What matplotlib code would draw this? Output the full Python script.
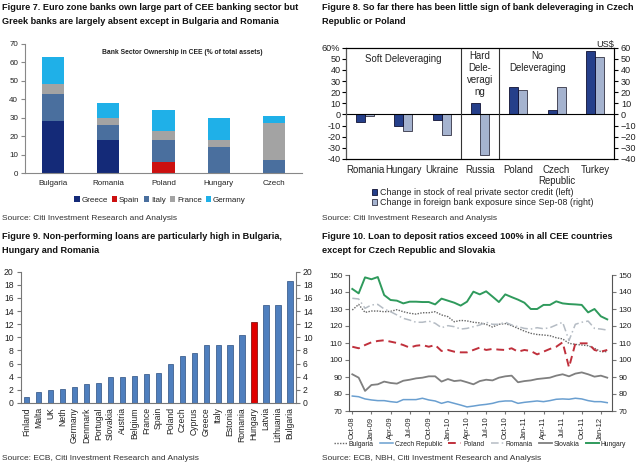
import matplotlib
matplotlib.use("Agg")
import matplotlib.pyplot as plt
import numpy as np
from matplotlib.patches import Patch

plt.rcParams['font.family'] = ['Liberation Sans', 'DejaVu Sans']

# ---------------- Data ----------------
# Figure 7
f7_countries = ["Bulgaria", "Romania", "Poland", "Hungary", "Czech"]
f7_series = ["Greece", "Spain", "Italy", "France", "Germany"]
f7_greece = [28, 18, 0, 0, 0]
f7_spain = [0, 0, 6, 0, 0]
f7_italy = [15, 8, 12, 14, 7]
f7_france = [5, 4, 5, 4, 20]
f7_germany = [15, 8, 11, 12, 4]

# Figure 8
f8_countries = ["Romania", "Hungary", "Ukraine", "Russia", "Poland", "Czech\nRepublic", "Turkey"]
f8_credit = [-7, -10, -5, 10, 25, 4, 57]
f8_exposure = [-1, -15, -18, -36, 22, 25, 52]
f8_groups = ["Soft Deleveraging", "Hard\nDele-\nveragi\nng", "No\nDeleveraging"]

# Figure 9
f9_countries = ["Finland", "Malta", "UK", "Neth", "Germany", "Denmark", "Portugal", "Slovakia",
                "Austria", "Belgium", "France", "Spain", "Poland", "Czech", "Cyprus", "Greece",
                "Italy", "Estonia", "Romania", "Hungary", "Latvia", "Lithuania", "Bulgaria"]
f9_npl = [0.9, 1.6, 2.0, 2.2, 2.5, 2.9, 3.1, 3.9, 4.0, 4.1, 4.4, 4.5, 5.9, 7.1, 7.6, 8.8,
          8.8, 8.9, 10.3, 12.3, 14.9, 15.0, 18.6]

# Figure 10 (monthly Oct-08 .. Feb-12)
f10_ticklabels = ["Oct-08", "Jan-09", "Apr-09", "Jul-09", "Oct-09", "Jan-10", "Apr-10",
                  "Jul-10", "Oct-10", "Jan-11", "Apr-11", "Jul-11", "Oct-11", "Jan-12"]
bulgaria = [129.4, 132.7, 128.0, 128.8, 128.8, 128.4, 128.6, 129.6, 128.4, 127.5,
            127.0, 127.8, 127.8, 128.4, 126.5, 125.5, 122.5, 123.3, 123.0, 122.2,
            121.8, 121.0, 119.4, 121.0, 121.4, 120.2, 118.6, 117.0, 115.7, 115.0,
            114.7, 114.3, 113.1, 112.4, 109.8, 109.2, 108.8, 108.4, 106.9, 104.9, 104.9]
czech = [78.8, 78.4, 77.1, 76.5, 76.1, 76.1, 75.5, 75.1, 76.7, 76.7,
         76.7, 77.5, 76.5, 75.9, 74.5, 75.5, 74.5, 73.5, 72.4, 72.9,
         73.5, 73.9, 74.5, 75.5, 75.9, 75.9, 74.5, 75.1, 75.5, 75.9,
         75.5, 76.1, 76.9, 77.1, 76.9, 77.5, 77.1, 76.1, 75.5, 75.5, 74.9]
poland = [107.8, 106.9, 108.8, 110.4, 111.2, 111.6, 110.8, 110.0, 108.8, 107.3,
          108.4, 108.8, 107.8, 108.8, 105.3, 105.9, 104.9, 104.5, 104.5, 105.9,
          107.3, 105.9, 106.5, 106.1, 105.9, 106.9, 104.9, 105.9, 105.3, 103.3,
          104.9, 106.5, 107.8, 110.4, 95.7, 109.8, 109.8, 109.8, 105.9, 104.9, 105.9]
romania = [136.3, 135.9, 130.4, 132.4, 132.7, 130.0, 128.4, 126.5, 124.5, 123.5,
           122.2, 122.2, 122.9, 121.6, 119.0, 120.2, 119.6, 118.2, 118.6, 119.6,
           120.6, 122.2, 121.0, 121.0, 122.2, 120.6, 119.6, 118.6, 118.2, 119.0,
           118.4, 119.0, 120.6, 122.2, 111.5, 121.0, 122.2, 122.9, 118.6, 118.2, 117.6]
slovakia = [91.6, 89.6, 81.8, 85.3, 85.7, 87.3, 86.5, 86.1, 87.8, 88.4,
            89.2, 89.6, 90.4, 90.4, 87.3, 88.8, 87.6, 88.0, 86.9, 85.7,
            87.6, 88.4, 88.0, 89.6, 90.4, 90.8, 86.9, 87.6, 88.0, 88.8,
            89.2, 89.6, 90.8, 91.6, 90.4, 92.0, 92.7, 91.6, 90.2, 90.8, 89.6]
hungary = [141.8, 139.2, 148.6, 147.5, 148.8, 138.2, 135.3, 134.9, 133.3, 134.3,
           134.3, 134.1, 134.1, 132.7, 136.1, 134.9, 133.7, 132.0, 134.3, 140.2,
           138.6, 140.4, 137.3, 134.1, 138.6, 137.0, 135.5, 133.7, 130.0, 130.0,
           132.4, 132.4, 134.5, 133.3, 132.9, 132.7, 132.4, 128.0, 130.0, 125.7, 123.9]

# ---------------- Figure ----------------
W, H = 640, 467
fig = plt.figure(figsize=(W / 100, H / 100), dpi=100)
fig.patch.set_facecolor("white")


def rect(l, t, r, b):
    return [l / W, 1 - b / H, (r - l) / W, (b - t) / H]


def ftext(x, y, s, **kw):
    fig.text(x / W, 1 - y / H, s, **kw)


TFS = 6.6
TICKFS = 6.2
TXT = '#222222'

# Titles
titles = [
    (2, 8, "Figure 7. Euro zone banks own large part of CEE banking sector but"),
    (2, 21, "Greek banks are largely absent except in Bulgaria and Romania"),
    (322, 8, "Figure 8. So far there has been little sign of bank deleveraging in Czech"),
    (322, 21, "Republic or Poland"),
    (2, 237, "Figure 9. Non-performing loans are particularly high in Bulgaria,"),
    (2, 250, "Hungary and Romania"),
    (322, 237, "Figure 10. Loan to deposit ratios exceed 100% in all CEE countries"),
    (322, 250, "except for Czech Republic and Slovakia"),
]
for x, y, s in titles:
    ftext(x, y, s, fontsize=TFS, fontweight='bold', va='center', color='#111111')

# Sources
SFS = 6.0
ftext(2, 218, "Source: Citi Investment Research and Analysis", fontsize=SFS, va='center', color='#333333')
ftext(322, 218, "Source: Citi Investment Research and Analysis", fontsize=SFS, va='center', color='#333333')
ftext(2, 459, "Source: ECB, Citi Investment Research and Analysis", fontsize=SFS, va='center', color='#333333')
ftext(322, 459, "Source: ECB, NBH, Citi Investment Research and Analysis", fontsize=SFS, va='center', color='#333333')

# ---------------- Figure 7 ----------------
ax7 = fig.add_axes(rect(25, 43.7, 302, 173))
x7 = np.arange(len(f7_countries))
c7 = ["#142a78", "#cc1010", "#4a6f9e", "#a3a3a3", "#1fb0e8"]
bottom = np.zeros(len(f7_countries))
for vals, col, name in zip([f7_greece, f7_spain, f7_italy, f7_france, f7_germany], c7, f7_series):
    ax7.bar(x7, vals, 0.4, bottom=bottom, color=col, label=name)
    bottom += np.array(vals)
ax7.set_xlim(-0.5, 4.5)
ax7.set_ylim(0, 70)
ax7.set_yticks(range(0, 71, 10))
ax7.set_xticks(x7)
ax7.set_xticklabels(f7_countries)
ax7.tick_params(axis='x', length=0, labelsize=5.8, pad=5, labelcolor=TXT)
ax7.tick_params(axis='y', length=3, labelsize=5.8, color='#888888', pad=2, labelcolor=TXT)
for s in ['top', 'right']:
    ax7.spines[s].set_visible(False)
for s in ['left', 'bottom']:
    ax7.spines[s].set_color('#888888')
ax7.text(0.567, 0.93, "Bank Sector Ownership in CEE (% of total assets)", transform=ax7.transAxes,
         ha='center', va='center', fontsize=4.9, fontweight='bold', color=TXT)
h7 = [Patch(facecolor=c, edgecolor='none') for c in c7]
fig.legend(h7, f7_series, loc='center', bbox_to_anchor=(160 / W, 1 - 200 / H), ncol=5,
           frameon=False, fontsize=5.8, handlelength=0.7, handleheight=0.7,
           handletextpad=0.2, columnspacing=0.5, borderaxespad=0, labelcolor=TXT)

# ---------------- Figure 8 ----------------
ax8 = fig.add_axes(rect(346, 47.7, 614, 159))
x8 = np.arange(len(f8_countries))
bw = 0.235
ax8.bar(x8 - bw / 2, f8_credit, bw, color="#253f8a", edgecolor="#111133", linewidth=0.6)
ax8.set_xlim(-0.5, 6.5)
ax8.set_ylim(-40, 60)
ax8.set_yticks(range(-40, 61, 10))
ax8.set_yticklabels([str(v) if v != 60 else "60%" for v in range(-40, 61, 10)])
ax8.set_xticks(x8)
ax8.set_xticklabels(f8_countries)
ax8.tick_params(axis='x', length=0, labelsize=6.9, pad=4, labelcolor=TXT)
ax8.tick_params(axis='y', length=3, labelsize=6.6, pad=1, labelcolor=TXT)
ax8r = ax8.twinx()
ax8r.bar(x8 + bw / 2, f8_exposure, bw, color="#a5b3cf", edgecolor="#333344", linewidth=0.6)
ax8r.set_ylim(-40, 60)
ax8r.set_yticks(range(-40, 61, 10))
ax8r.tick_params(axis='y', length=3, labelsize=6.6, pad=2, labelcolor=TXT)
ax8.axhline(0, color='black', linewidth=0.8)
for xv in [2.5, 3.5]:
    ax8.axvline(xv, color='#333333', linewidth=0.8)
for ax in (ax8, ax8r):
    for s in ax.spines.values():
        s.set_linewidth(0.8)
ax8.spines['left'].set_color('#555555')
ax8r.spines['right'].set_color('#555555')
ax8.set_zorder(ax8r.get_zorder() + 1)
ax8.patch.set_visible(False)
ax8.text(1.0, 50, f8_groups[0], ha='center', va='center', fontsize=6.9, color=TXT)
ax8.text(3.0, 57, f8_groups[1], ha='center', va='top', fontsize=6.9, linespacing=1.25, color=TXT)
ax8.text(4.5, 57, f8_groups[2], ha='center', va='top', fontsize=6.9, linespacing=1.25, color=TXT)
ftext(605, 44, "US$", ha='center', va='center', fontsize=6.6, color=TXT)
h8 = [Patch(facecolor="#253f8a", edgecolor="#111133", linewidth=0.6),
      Patch(facecolor="#a5b3cf", edgecolor="#333344", linewidth=0.6)]
fig.legend(h8, ["Change in stock of real private sector credit (left)",
                "Change in foreign bank exposure since Sep-08 (right)"],
           loc='upper left', bbox_to_anchor=(372 / W, 1 - 188 / H), ncol=1, frameon=False,
           fontsize=6.4, handlelength=0.6, handleheight=0.6, handletextpad=0.3,
           labelspacing=0.1, borderaxespad=0, borderpad=0, labelcolor=TXT)

# ---------------- Figure 9 ----------------
ax9 = fig.add_axes(rect(20.7, 271.7, 296, 403))
x9 = np.arange(len(f9_countries))
cols9 = ["#e00000" if c == "Hungary" else "#4f7fbe" for c in f9_countries]
edges9 = ["#700000" if c == "Hungary" else "#2b4f80" for c in f9_countries]
ax9.bar(x9, f9_npl, 0.45, color=cols9, edgecolor=edges9, linewidth=0.5)
ax9.set_xlim(-0.5, len(f9_countries) - 0.5)
ax9.set_ylim(0, 20)
ax9.set_yticks(range(0, 21, 2))
ax9.set_xticks(x9)
ax9.set_xticklabels(f9_countries, rotation=90)
ax9.tick_params(axis='x', length=0, labelsize=TICKFS, pad=3, labelcolor=TXT)
ax9.tick_params(axis='y', length=3, labelsize=TICKFS, pad=2, color='#777777',
                right=True, labelright=True, labelcolor=TXT)
ax9.spines['top'].set_visible(False)
for s in ['left', 'right', 'bottom']:
    ax9.spines[s].set_color('#777777')

# ---------------- Figure 10 ----------------
ax10 = fig.add_axes(rect(349.3, 275, 611.7, 411))
x10 = np.arange(len(hungary))
ax10.plot(x10, bulgaria, color="#666666", linestyle=(0, (1, 1)), linewidth=1.0, label="Bulgaria")
ax10.plot(x10, czech, color="#6a9fd0", linestyle='-', linewidth=1.1, label="Czech Republic")
ax10.plot(x10, poland, color="#c0303c", linestyle=(0, (4, 2.5)), linewidth=1.4, label="Poland")
ax10.plot(x10, romania, color="#b5bcc4", linestyle=(0, (5, 2, 1, 2)), linewidth=1.1, label="Romania")
ax10.plot(x10, slovakia, color="#7f7f7f", linestyle='-', linewidth=1.3, label="Slovakia")
ax10.plot(x10, hungary, color="#2f9a5c", linestyle='-', linewidth=1.4, label="Hungary")
ax10.set_xlim(-0.47, 40.7)
ax10.set_ylim(70, 150)
ax10.set_yticks(range(70, 151, 10))
ax10.set_xticks(x10[::3])
ax10.set_xticklabels(f10_ticklabels, rotation=90)
ax10.tick_params(axis='x', length=2, labelsize=5.4, pad=2, color='#777777', labelcolor=TXT)
ax10.tick_params(axis='y', length=3, labelsize=5.8, pad=2, color='#777777',
                 right=True, labelright=True, labelcolor=TXT)
ax10.spines['top'].set_visible(False)
for s in ['left', 'right', 'bottom']:
    ax10.spines[s].set_color('#555555')
h10, l10 = ax10.get_legend_handles_labels()
fig.legend(h10, l10, loc='center', bbox_to_anchor=(480 / W, 1 - 444 / H), ncol=6, frameon=False,
           fontsize=4.9, handlelength=1.9, handletextpad=0.3, columnspacing=0.9,
           borderaxespad=0, labelcolor=TXT)

fig.savefig("out.png", dpi=100, facecolor="white")
